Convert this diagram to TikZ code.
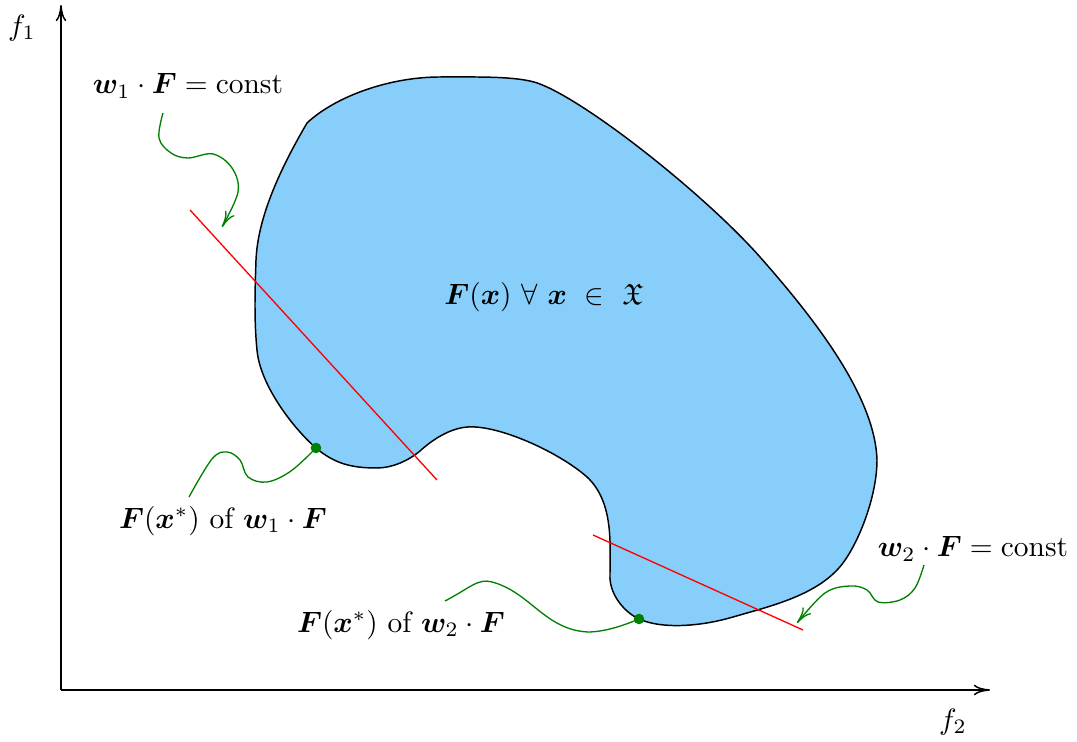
\documentclass[tikz,border=0pt]{standalone}
\usepackage{amsmath,amssymb,bm}
\usetikzlibrary{arrows.meta}
\definecolor{blobblue}{RGB}{135,206,250}
\definecolor{dgreen}{RGB}{0,128,0}
\tikzset{
  blob/.style={draw=black, fill=blobblue, line width=0.5pt},
  level/.style={draw=red, line width=0.45pt},
  gline/.style={draw=dgreen, line width=0.45pt},
  bigtip/.style={-{To[length=5.5pt,width=3.6pt]}},
  garrow/.style={gline, bigtip},
  axis/.style={draw=black, line width=0.5pt, bigtip},
  lab/.style={inner sep=1pt},
}
\begin{document}
\begin{tikzpicture}[x=0.34pt, y=-0.34pt]
\useasboundingbox (0,0) rectangle (1077,742);
% axes
\coordinate (O) at (61,690);
\coordinate (ytop) at (61,5);
\coordinate (xend) at (990,690);
\draw[axis] (O) -- (ytop);
\draw[axis] (O) -- (xend);
\node[lab] (f1) at (22,28) {$f_1$};
\node[lab] (f2) at (953,722) {$f_2$};
% feasible region
\path[blob] (307,123) .. controls (336,96) and (390,77) .. (440,77)
 .. controls (480,77) and (520,76) .. (540,84)
 .. controls (591,104) and (707,197) .. (760,257)
 .. controls (812,316) and (875,395) .. (877,460)
 .. controls (877,495) and (860,540) .. (843,563)
 .. controls (819,595) and (771,606) .. (733,617)
 .. controls (699,627) and (661,629) .. (639,619)
 .. controls (622,611) and (609,592) .. (610,575)
 .. controls (610,545) and (614,502) .. (587,477)
 .. controls (560,453) and (500,425) .. (468,427)
 .. controls (450,428) and (432,440) .. (420,451)
 .. controls (408,461) and (392,468) .. (377,468)
 .. controls (352,468) and (335,464) .. (316,448)
 .. controls (293,428) and (260,385) .. (257,350)
 .. controls (254,320) and (255,290) .. (256,260)
 .. controls (258,215) and (282,166) .. (307,123) -- cycle;
\node[lab] (region) at (544,297) {$\bm{F}(\bm{x})\ \forall\ \bm{x}\ \in\ \mathfrak{X}$};
% level lines
\coordinate (l1a) at (190,210);
\coordinate (l1b) at (437,480);
\coordinate (l2a) at (593,535);
\coordinate (l2b) at (803,630);
\draw[level] (l1a) -- (l1b);
\draw[level] (l2a) -- (l2b);
% optimal points
\coordinate (p1) at (316,448);
\coordinate (p2) at (639,619);
\fill[dgreen] (p1) circle (1.8pt);
\fill[dgreen] (p2) circle (1.8pt);
% labels
\node[lab] (w1) at (188,86) {$\bm{w}_1\cdot\bm{F}=\mathrm{const}$};
\node[lab] (w2) at (973,549) {$\bm{w}_2\cdot\bm{F}=\mathrm{const}$};
\node[lab] (o1) at (223,521) {$\bm{F}(\bm{x}^{*})$ of $\bm{w}_1\cdot\bm{F}$};
\node[lab] (o2) at (401,625) {$\bm{F}(\bm{x}^{*})$ of $\bm{w}_2\cdot\bm{F}$};
% connectors
\coordinate (c1s) at (163,113);
\coordinate (c1e) at (222,227);
\draw[garrow] plot[smooth, tension=0.6] coordinates {(c1s) (159,138) (171,153) (188,158) (213,154) (232,168) (238,192) (c1e)};
\coordinate (c2e) at (189,497);
\draw[gline] plot[smooth, tension=0.6] coordinates {(p1) (291,471) (267,482) (248,477) (240,460) (227,452) (212,459) (c2e)};
\coordinate (c3s) at (445,601);
\draw[gline] (c3s) .. controls (470,588) and (478,578) .. (492,582)
  .. controls (530,592) and (545,630) .. (588,632)
  .. controls (605,632) and (625,625) .. (p2);
\coordinate (c4s) at (924,565);
\coordinate (c4e) at (797,623);
\draw[garrow] plot[smooth, tension=0.6] coordinates {(c4s) (915,588) (900,600) (878,602) (867,590) (850,586) (825,593) (c4e)};
\end{tikzpicture}
\end{document}
